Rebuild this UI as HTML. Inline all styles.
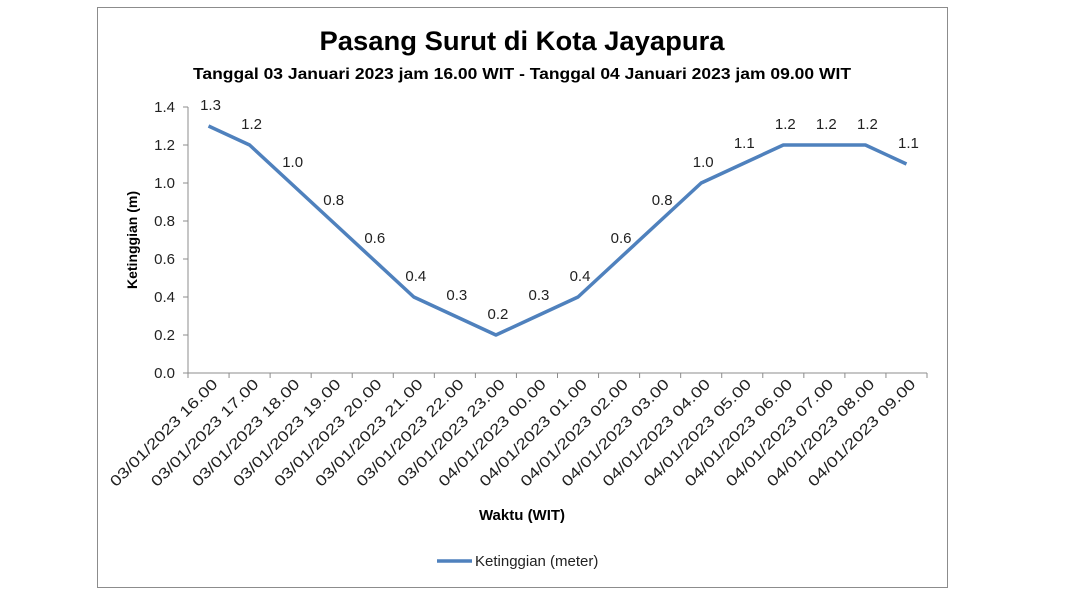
<!DOCTYPE html>
<html><head><meta charset="utf-8"><style>
body{margin:0;background:#fff;width:1080px;height:590px;overflow:hidden;font-family:"Liberation Sans",sans-serif}
</style></head><body>
<svg width="1080" height="590" id="svg">
<rect x="97.5" y="7.5" width="850" height="580" fill="#fff" stroke="#8c8c8c"/>
<text x="522" y="50" text-anchor="middle" font-size="27" font-weight="bold" fill="#000" textLength="405" lengthAdjust="spacingAndGlyphs">Pasang Surut di Kota Jayapura</text>
<text x="522" y="79" text-anchor="middle" font-size="16" font-weight="bold" fill="#000" textLength="658" lengthAdjust="spacingAndGlyphs">Tanggal 03 Januari 2023 jam 16.00 WIT - Tanggal 04 Januari 2023 jam 09.00 WIT</text>
<text transform="translate(137,240) rotate(-90)" text-anchor="middle" font-size="14" font-weight="bold">Ketinggian (m)</text>
<text x="522" y="520" text-anchor="middle" font-size="15" font-weight="bold">Waktu (WIT)</text>
<g id="plot"></g>
<line x1="437" y1="561" x2="472" y2="561" stroke="#4f81bd" stroke-width="3.5"/>
<text x="475" y="566" font-size="15" fill="#222">Ketinggian (meter)</text>
</svg>
<script>
const categories=["03/01/2023 16.00","03/01/2023 17.00","03/01/2023 18.00","03/01/2023 19.00","03/01/2023 20.00","03/01/2023 21.00","03/01/2023 22.00","03/01/2023 23.00","04/01/2023 00.00","04/01/2023 01.00","04/01/2023 02.00","04/01/2023 03.00","04/01/2023 04.00","04/01/2023 05.00","04/01/2023 06.00","04/01/2023 07.00","04/01/2023 08.00","04/01/2023 09.00"];
const values=[1.3,1.2,1.0,0.8,0.6,0.4,0.3,0.2,0.3,0.4,0.6,0.8,1.0,1.1,1.2,1.2,1.2,1.1];
const yTicks=[0,0.2,0.4,0.6,0.8,1.0,1.2,1.4];
const NS="http://www.w3.org/2000/svg";
const g=document.getElementById('plot');
const x0=188,x1=927,yb=373,yt=107,ymax=1.4;
const step=(x1-x0)/categories.length;
const X=i=>x0+step*(i+0.5);
const Y=v=>yb-(v/ymax)*(yb-yt);
function mk(t,a){const e=document.createElementNS(NS,t);for(const k in a)e.setAttribute(k,a[k]);g.appendChild(e);return e;}
let e=mk('line',{x1:x0,y1:yt,x2:x0,y2:yb,stroke:'#8c8c8c'});


e=mk('line',{x1:x0,y1:yb,x2:x1,y2:yb,stroke:'#8c8c8c'});


yTicks.forEach(v=>{
 const t=mk('line',{x1:x0-5,y1:Y(v),x2:x0,y2:Y(v),stroke:'#8c8c8c'});
 
 
 const l=mk('text',{x:x0-13,y:Y(v)+5,'text-anchor':'end','font-size':15,fill:'#222'});
 l.textContent=v.toFixed(1);
 
 
});
for(let i=0;i<=categories.length;i++){
 const t=mk('line',{x1:x0+step*i,y1:yb,x2:x0+step*i,y2:yb+5,stroke:'#8c8c8c'});
 
 
}
categories.forEach((c,i)=>{
 const l=mk('text',{transform:`translate(${X(i)+10},${yb+12}) rotate(-45)`,'text-anchor':'end','font-size':15,fill:'#222',textLength:145,lengthAdjust:'spacingAndGlyphs'});
 l.textContent=c;
 
 
});
const p=mk('polyline',{points:values.map((v,i)=>X(i)+','+Y(v)).join(' '),fill:'none',stroke:'#4f81bd','stroke-width':3.5,'stroke-linejoin':'round'});


values.forEach((v,i)=>{
 const l=mk('text',{x:X(i)+2,y:Y(v)-16,'text-anchor':'middle','font-size':15,fill:'#222'});
 l.textContent=v.toFixed(1);
 
 
});
</script>
</body></html>
